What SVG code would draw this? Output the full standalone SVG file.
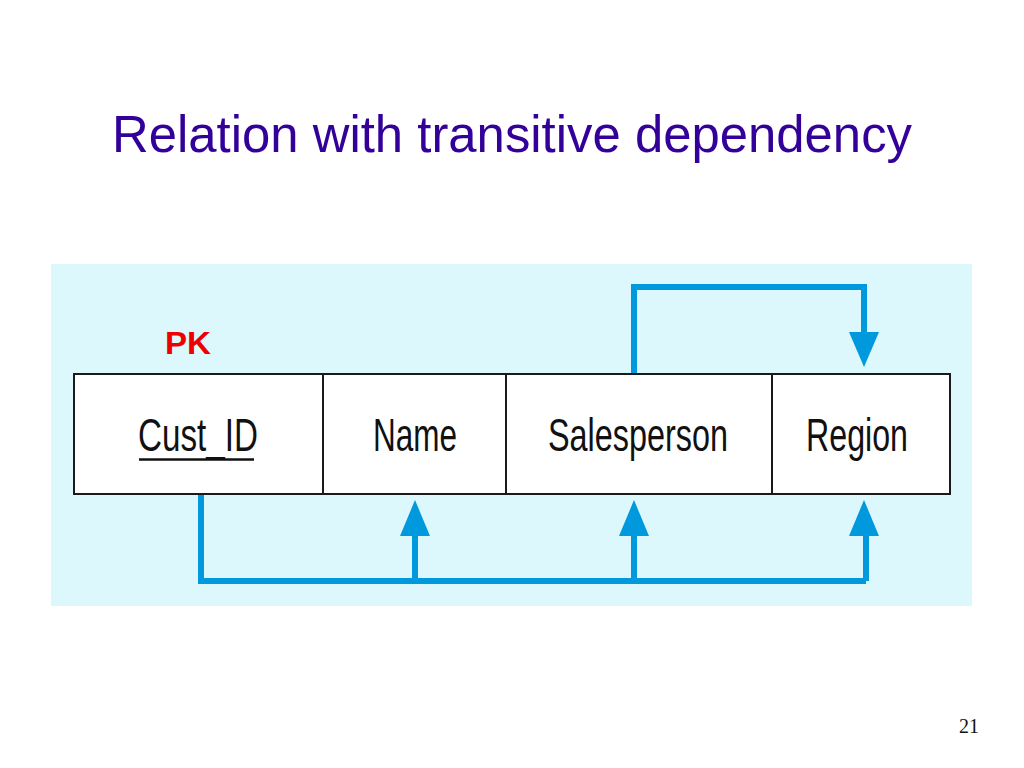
<svg xmlns="http://www.w3.org/2000/svg" width="1024" height="768" viewBox="0 0 1024 768">
<defs>
<style>
.cell{fill:#ffffff;stroke:#1a1a1a;stroke-width:2}
.lbl{font-family:"Liberation Sans",Arial,sans-serif;font-size:46px;fill:#111111}
.conn{fill:none;stroke:#0099DD;stroke-width:6;stroke-linejoin:miter}
.head{fill:#0099DD}
</style>
</defs>
<rect width="1024" height="768" fill="#ffffff"/>
<text x="112" y="152" font-family="'Liberation Sans',Arial,sans-serif" font-size="52" fill="#330099" textLength="800" lengthAdjust="spacingAndGlyphs">Relation with transitive dependency</text>
<rect x="51" y="264" width="921" height="342" fill="#DDF8FC"/>
<text x="165" y="354" font-family="'Liberation Sans',Arial,sans-serif" font-size="32" font-weight="bold" fill="#EE0000" textLength="46" lengthAdjust="spacingAndGlyphs">PK</text>
<g id="cust_id">
<rect class="cell" x="74" y="374" width="249" height="120"/>
<text class="lbl" x="138" y="451" textLength="120" lengthAdjust="spacingAndGlyphs">Cust_ID</text>
<line x1="139" y1="459.5" x2="254" y2="459.5" stroke="#111111" stroke-width="2.5"/>
</g>
<g id="name">
<rect class="cell" x="323" y="374" width="183" height="120"/>
<text class="lbl" x="373" y="451" textLength="84" lengthAdjust="spacingAndGlyphs">Name</text>
</g>
<g id="salesperson">
<rect class="cell" x="506" y="374" width="266" height="120"/>
<text class="lbl" x="548" y="451" textLength="180" lengthAdjust="spacingAndGlyphs">Salesperson</text>
</g>
<g id="region">
<rect class="cell" x="772" y="374" width="178" height="120"/>
<text class="lbl" x="806" y="451" textLength="102" lengthAdjust="spacingAndGlyphs">Region</text>
</g>
<g id="connectors">
<path class="conn" d="M201 495 V581 H866"/>
<path class="conn" d="M415 581 V530"/>
<path class="conn" d="M634 581 V530"/>
<path class="conn" d="M866 581 V530"/>
<polygon class="head" points="415,500 400,536 430,536"/>
<polygon class="head" points="634,500 619,536 649,536"/>
<polygon class="head" points="864,500 849,536 879,536"/>
<path class="conn" d="M634 373 V287 H864 V335"/>
<polygon class="head" points="864,367 849,332 879,332"/>
</g>
<text x="979" y="733" text-anchor="end" font-family="'Liberation Serif','Times New Roman',serif" font-size="20" fill="#111111">21</text>
</svg>
